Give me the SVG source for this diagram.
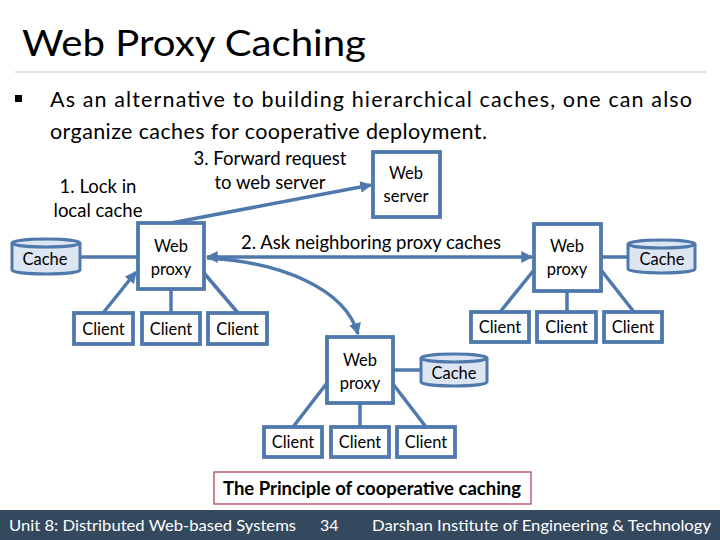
<svg xmlns="http://www.w3.org/2000/svg" width="720" height="540" viewBox="0 0 720 540">
<defs>
<style>
text{font-family:Lato,"Open Sans","Liberation Sans",sans-serif;fill:#000}
.n{font-size:16.5px;text-anchor:middle}
.lbl{font-size:18.5px;text-anchor:middle}
.box{fill:#fff;stroke:#4f79ac;stroke-width:3.8}
.cyl{fill:#dce6f2;stroke:#4f79ac;stroke-width:3}
.ln{fill:none;stroke:#4f79ac;stroke-width:3.5}
.ft{font-size:16px;fill:#fff}
</style>
<marker id="ah" viewBox="0 0 10 10" refX="9" refY="5" markerWidth="3.4" markerHeight="3.4" orient="auto-start-reverse" markerUnits="strokeWidth">
<path d="M0,0 L10,5 L0,10 z" fill="#4f79ac"/>
</marker>
</defs>
<rect width="720" height="540" fill="#fff"/>
<text x="22" y="56" style="font-size:37px" textLength="344" lengthAdjust="spacingAndGlyphs">Web Proxy Caching</text>
<line x1="15" y1="72" x2="706" y2="72" stroke="#d9d9d9" stroke-width="1.5"/>
<rect x="15" y="95" width="7" height="7" fill="#000"/>
<text x="50" y="107" style="font-size:21.5px" textLength="642" lengthAdjust="spacing">As an alternative to building hierarchical caches, one can also</text>
<text x="50" y="139" style="font-size:21.5px" textLength="437" lengthAdjust="spacing">organize caches for cooperative deployment.</text>

<g id="connectors">
<line class="ln" x1="80" y1="257" x2="138" y2="257"/>
<line class="ln" x1="103" y1="313" x2="136" y2="272" marker-end="url(#ah)"/>
<line class="ln" x1="171" y1="290" x2="171" y2="313"/>
<line class="ln" x1="238" y1="313" x2="204" y2="273"/>
<line class="ln" x1="171" y1="223" x2="371" y2="185" marker-end="url(#ah)"/>
<line class="ln" x1="207" y1="257" x2="532" y2="257" marker-start="url(#ah)" marker-end="url(#ah)"/>
<path class="ln" d="M207,258 C280,262 345,288 358,334" marker-end="url(#ah)"/>
<line class="ln" x1="601" y1="257" x2="628" y2="257"/>
<line class="ln" x1="534" y1="270" x2="500" y2="312"/>
<line class="ln" x1="567" y1="291" x2="567" y2="312"/>
<line class="ln" x1="601" y1="270" x2="634" y2="312"/>
<line class="ln" x1="393" y1="370" x2="421" y2="370"/>
<line class="ln" x1="327" y1="383" x2="293" y2="427"/>
<line class="ln" x1="360" y1="403" x2="360" y2="427"/>
<line class="ln" x1="393" y1="384" x2="426" y2="427"/>
</g>

<text class="lbl" x="98" y="193">1. Lock in</text>
<text class="lbl" x="98" y="217">local cache</text>
<text class="lbl" x="270" y="165">3. Forward request</text>
<text class="lbl" x="270" y="189">to web server</text>
<text class="lbl" x="371" y="249">2. Ask neighboring proxy caches</text>

<g id="cacheL">
<path class="cyl" d="M12,243 v27 a34,4 0 0 0 68,0 v-27"/>
<ellipse class="cyl" cx="46" cy="243" rx="34" ry="4"/>
<text class="n" x="45" y="265">Cache</text>
</g>
<g id="proxyL">
<rect class="box" x="138" y="223" width="66" height="66"/>
<text class="n" x="171" y="252">Web</text>
<text class="n" x="171" y="275">proxy</text>
</g>
<g id="clientL1"><rect class="box" x="74" y="313" width="59" height="31"/><text class="n" x="103.5" y="335">Client</text></g>
<g id="clientL2"><rect class="box" x="142" y="313" width="58" height="31"/><text class="n" x="171" y="335">Client</text></g>
<g id="clientL3"><rect class="box" x="208" y="313" width="59" height="31"/><text class="n" x="237.5" y="335">Client</text></g>

<g id="server">
<rect class="box" x="373" y="152" width="67" height="65"/>
<text class="n" x="406" y="179">Web</text>
<text class="n" x="406" y="202">server</text>
</g>

<g id="proxyR">
<rect class="box" x="534" y="224" width="67" height="67"/>
<text class="n" x="567" y="252">Web</text>
<text class="n" x="567" y="275">proxy</text>
</g>
<g id="cacheR">
<path class="cyl" d="M628,244 v25 a33.5,4 0 0 0 67,0 v-25"/>
<ellipse class="cyl" cx="661.5" cy="244" rx="33.5" ry="4"/>
<text class="n" x="662" y="265">Cache</text>
</g>
<g id="clientR1"><rect class="box" x="471" y="312" width="58" height="30"/><text class="n" x="500" y="333">Client</text></g>
<g id="clientR2"><rect class="box" x="537" y="312" width="59" height="30"/><text class="n" x="566.5" y="333">Client</text></g>
<g id="clientR3"><rect class="box" x="604" y="312" width="58" height="30"/><text class="n" x="633" y="333">Client</text></g>

<g id="proxyB">
<rect class="box" x="327" y="337" width="66" height="66"/>
<text class="n" x="360" y="366">Web</text>
<text class="n" x="360" y="389">proxy</text>
</g>
<g id="cacheB">
<path class="cyl" d="M421,358 v24 a33,4 0 0 0 66,0 v-24"/>
<ellipse class="cyl" cx="454" cy="358" rx="33" ry="4"/>
<text class="n" x="454" y="379">Cache</text>
</g>
<g id="clientB1"><rect class="box" x="264" y="427" width="58" height="30"/><text class="n" x="293" y="448">Client</text></g>
<g id="clientB2"><rect class="box" x="331" y="427" width="58" height="30"/><text class="n" x="360" y="448">Client</text></g>
<g id="clientB3"><rect class="box" x="397" y="427" width="58" height="30"/><text class="n" x="426" y="448">Client</text></g>

<g id="caption">
<rect x="214" y="472" width="317" height="32" fill="#fff" stroke="#b03a48" stroke-width="1.2"/>
<text x="372" y="495" style="font-size:18.5px;font-weight:bold;text-anchor:middle">The Principle of cooperative caching</text>
</g>

<rect x="0" y="510" width="720" height="30" fill="#34495e"/>
<text class="ft" x="9" y="531" textLength="287" lengthAdjust="spacingAndGlyphs">Unit 8: Distributed Web-based Systems</text>
<text class="ft" x="320" y="531">34</text>
<text class="ft" x="372" y="531" textLength="339" lengthAdjust="spacingAndGlyphs">Darshan Institute of Engineering &amp; Technology</text>
</svg>
